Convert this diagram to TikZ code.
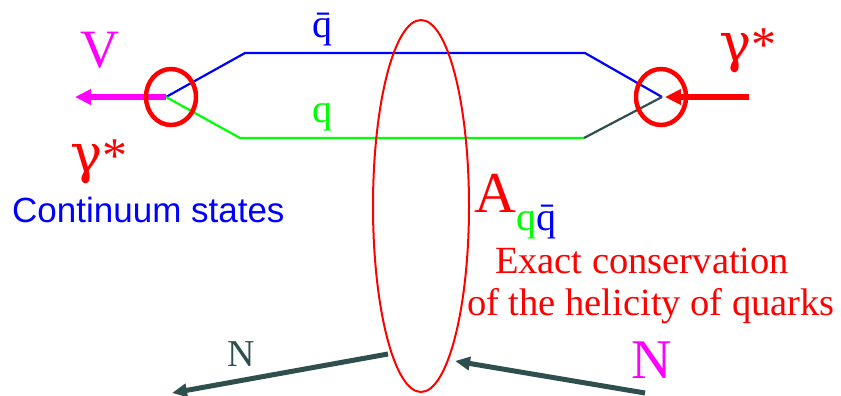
\documentclass[tikz,border=0pt]{standalone}
\usepackage{fontspec}
\setmainfont{Liberation Serif}
\setsansfont{Liberation Sans}
\newfontfamily\greekfont{DejaVu Serif}
\usepackage{xcolor}
\usepackage{tikz}
\usetikzlibrary{arrows.meta,positioning,shapes.geometric}
\definecolor{qblue}{HTML}{0000FF}
\definecolor{qgreen}{HTML}{00FF00}
\definecolor{phred}{HTML}{FF0000}
\definecolor{vmag}{HTML}{FF00FF}
\definecolor{nslate}{HTML}{2F4F4F}
\newcommand{\fsz}[1]{\fontsize{#1}{#1}\selectfont}

\begin{document}
\begin{tikzpicture}[
        x=1pt, y=-1pt,
        label/.style={inner sep=0pt, anchor=base},
        quarkline/.style={line width=2.2pt, line join=miter},
        vertexring/.style={ellipse, draw=phred, line width=4.5pt, minimum width=50pt, minimum height=56pt, inner sep=0pt},
        fatarrow/.style={line width=5pt, -{Triangle[length=16pt, width=15pt]}},
        narrow/.style={line width=5pt, draw=nslate, -{Triangle[length=15pt, width=13pt]}}
      ]
        \useasboundingbox (0,0) rectangle (841,396);

        \coordinate (lv) at (166,97);
        \coordinate (rv) at (662,97);
        \coordinate (qbl) at (245,53);
        \coordinate (qbr) at (585,53);
        \coordinate (ql) at (240,138);
        \coordinate (qr) at (584,138);
        \coordinate (vend) at (75,97);
        \coordinate (gin) at (749,97);
        \coordinate (ninl) at (645,393);
        \coordinate (ninr) at (455,361);
        \coordinate (noutl) at (388,354);
        \coordinate (noutr) at (172,393);

        \draw[quarkline, qblue] (lv) -- (qbl) -- (qbr) -- (rv);
        \draw[quarkline, qgreen] (lv) -- (ql) -- (qr);
        \draw[quarkline, nslate] (qr) -- (rv);

        \draw[fatarrow, vmag] (lv) -- (vend);
        \draw[fatarrow, phred, shorten >=3pt] (gin) -- (rv);

        \node[vertexring] (lring) at (171,97) {};
        \node[vertexring] (rring) at (661,97) {};

        \node[ellipse, draw=phred, line width=2pt, minimum width=96pt, minimum height=372pt] (amp) at (421,206) {};

        \draw[narrow] (noutl) -- (noutr);
        \draw[narrow] (ninl) -- (ninr);

        \node[label, text=vmag] (vlabel) at (100,68) {\fsz{54}V};
        \node[label, text=phred] (gleft) at (99,172) {\fsz{50}{\greekfont\fsz{54}γ}*};
        \node[label, text=phred] (gright) at (748,62) {\fsz{50}{\greekfont\fsz{54}γ}*};
        \node[label, text=qblue] (qbarlabel) at (322,38) {\fsz{40}\=q};
        \node[label, text=qgreen] (qlabel) at (322,122) {\fsz{40}q};
        \node[label, anchor=base west, text=qblue] (cont) at (12,222) {\sffamily\fsz{35}Continuum states};
        \node[label, anchor=base west, text=phred] (amplabel) at (474,212) {\fsz{58}A\raisebox{-18pt}{\fsz{40}\textcolor{qgreen}{q}\textcolor{qblue}{\=q}}};
        \node[label, text=phred] (cons1) at (642,273) {\fsz{38.5}Exact conservation};
        \node[label, text=phred] (cons2) at (651,315) {\fsz{38.5}of the helicity of quarks};
        \node[label, text=vmag] (nin) at (652,378) {\fsz{56}N};
        \node[label, text=nslate] (nout) at (241,366) {\fsz{38}N};
      \end{tikzpicture}
\end{document}
